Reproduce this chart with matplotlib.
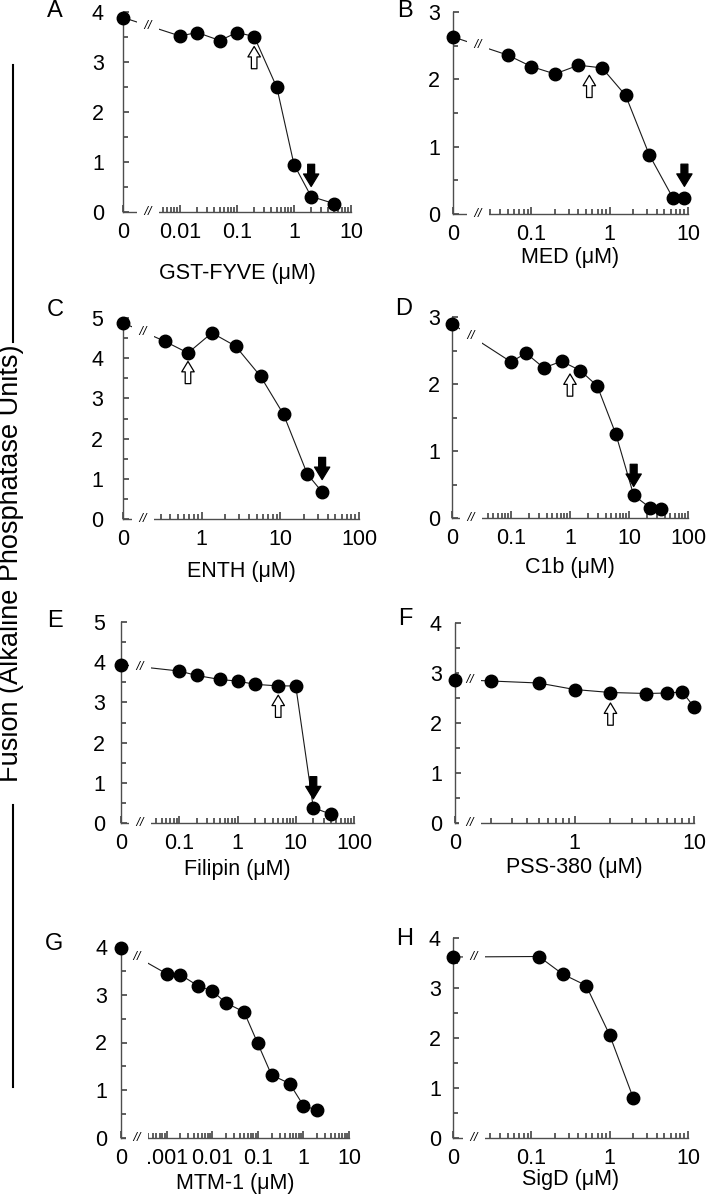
import numpy as np
import matplotlib
matplotlib.use('Agg')
import matplotlib.pyplot as plt
from matplotlib.lines import Line2D
from matplotlib.ticker import FixedLocator, FixedFormatter, NullFormatter

plt.rcParams['font.family'] = ['Liberation Sans', 'DejaVu Sans']

# ---- data (uM, alkaline phosphatase units) ----
# A  GST-FYVE
a_conc = [0.01, 0.02, 0.05, 0.1, 0.2, 0.5, 1, 2, 5]
a_fus = [3.52, 3.59, 3.43, 3.59, 3.51, 2.49, 0.95, 0.31, 0.17]
a_zero = 3.89
a_up = [0.2, 3.31]      # x, arrow tip
a_down = [2, 0.51]
a_ticks = ['0', '0.01', '0.1', '1', '10']

# B  MED
b_conc = [0.05, 0.1, 0.2, 0.4, 0.8, 1.6, 3.2, 6.4, 9]
b_fus = [2.36, 2.19, 2.08, 2.21, 2.17, 1.76, 0.88, 0.24, 0.24]
b_zero = 2.63
b_up = [0.55, 2.06]
b_down = [9, 0.41]
b_ticks = ['0', '0.1', '1', '10']

# C  ENTH
c_conc = [0.34, 0.67, 1.35, 2.7, 5.6, 11, 22, 34]
c_fus = [4.42, 4.13, 4.63, 4.30, 3.55, 2.60, 1.12, 0.67]
c_zero = 4.88
c_up = [0.67, 3.92]
c_down = [34, 0.98]
c_ticks = ['0', '1', '10', '100']

# D  C1b
d_conc = [0.1, 0.18, 0.36, 0.72, 1.5, 2.9, 6, 12, 23, 35]
d_fus = [2.33, 2.46, 2.24, 2.34, 2.20, 1.97, 1.25, 0.34, 0.15, 0.14]
d_zero = 2.90
d_up = [1.0, 2.15]
d_down = [12, 0.47]
d_ticks = ['0', '0.1', '1', '10', '100']

# E  Filipin
e_conc = [0.1, 0.2, 0.5, 1, 2, 5, 10, 20, 40]
e_fus = [3.78, 3.67, 3.57, 3.53, 3.45, 3.41, 3.41, 0.38, 0.22]
e_zero = 3.94
e_up = [5, 3.18]
e_down = [20, 0.60]
e_ticks = ['0', '0.1', '1', '10', '100']

# F  PSS-380
f_conc = [0.2, 0.5, 1, 2, 4, 6, 8, 10]
f_fus = [2.84, 2.80, 2.67, 2.61, 2.59, 2.60, 2.62, 2.32]
f_zero = 2.87
f_up = [2, 2.40]
f_down = None
f_ticks = ['0', '1', '10']

# G  MTM-1
g_conc = [0.001, 0.002, 0.005, 0.01, 0.02, 0.05, 0.1, 0.2, 0.5, 1, 2]
g_fus = [3.44, 3.42, 3.18, 3.08, 2.83, 2.64, 1.98, 1.32, 1.14, 0.68, 0.58]
g_zero = 3.98
g_ticks = ['0', '.001', '0.01', '0.1', '1', '10']

# H  SigD
h_conc = [0.125, 0.25, 0.5, 1, 2]
h_fus = [3.63, 3.28, 3.05, 2.06, 0.80]
h_zero = 3.62
h_ticks = ['0', '0.1', '1', '10']

W, H = 706, 1200
fig = plt.figure(figsize=(W / 100, H / 100), dpi=100)

# layout in pixels: box=(left, right, top, bottom); dec = log10 of zero slot and right end
panels = [
    dict(key='A', lab='GST-FYVE (μM)', x=a_conc, y=a_fus, y0=a_zero, up=a_up, down=a_down,
         ticks=a_ticks, box=(123, 351, 12, 212), dec=(-3, 1), ymax=4, mfrom=0.005,
         brk=25, ypad=19, labpos=(55, 11), xlab=273),
    dict(key='B', lab='MED (μM)', x=b_conc, y=b_fus, y0=b_zero, up=b_up, down=b_down,
         ticks=b_ticks, box=(453, 688, 12, 214), dec=(-2, 1), ymax=3, mfrom=0.03,
         brk=25, ypad=13, labpos=(405, 11), xlab=257),
    dict(key='C', lab='ENTH (μM)', x=c_conc, y=c_fus, y0=c_zero, up=c_up, down=c_down,
         ticks=c_ticks, box=(123, 359, 318, 519), dec=(-1, 2), ymax=5, mfrom=0.3,
         brk=20, ypad=20, labpos=(55, 310), xlab=572),
    dict(key='D', lab='C1b (μM)', x=d_conc, y=d_fus, y0=d_zero, up=d_up, down=d_down,
         ticks=d_ticks, box=(452, 688, 317, 518), dec=(-2, 2), ymax=3, mfrom=0.04,
         brk=19, ypad=12, labpos=(404, 309), xlab=567),
    dict(key='E', lab='Filipin (μM)', x=e_conc, y=e_fus, y0=e_zero, up=e_up, down=e_down,
         ticks=e_ticks, box=(121, 354, 622, 823), dec=(-2, 2), ymax=5, mfrom=0.04,
         brk=19, ypad=16, labpos=(55, 621), xlab=870),
    dict(key='F', lab='PSS-380 (μM)', x=f_conc, y=f_fus, y0=f_zero, up=f_up, down=f_down,
         ticks=f_ticks, box=(455, 694, 623, 823), dec=(-1, 1), ymax=4, mfrom=0.2,
         brk=15, ypad=13, labpos=(405, 619), xlab=867),
    dict(key='G', lab='MTM-1 (μM)', x=g_conc, y=g_fus, y0=g_zero, up=None, down=None,
         ticks=g_ticks, box=(121, 349, 947, 1138), dec=(-4, 1), ymax=4, mfrom=0.0004,
         brk=16, ypad=14, labpos=(54, 944), xlab=1183),
    dict(key='H', lab='SigD (μM)', x=h_conc, y=h_fus, y0=h_zero, up=None, down=None,
         ticks=h_ticks, box=(453, 688, 938, 1138), dec=(-2, 1), ymax=4, mfrom=0.03,
         brk=21, ypad=12, labpos=(405, 939), xlab=1180),
]

axis_col = '0.3'
tick_col = '0.2'
brk_box = dict(boxstyle='square,pad=0.35', fc='white', ec='none')
open_style = 'simple,head_length=7.5,head_width=9,tail_width=4'
solid_style = 'simple,head_length=9,head_width=11,tail_width=5'

for p in panels:
    L, R, T, B = p['box']
    ax = fig.add_axes([L / W, 1 - B / H, (R - L) / W, (B - T) / H])
    lo, hi = p['dec']
    x0 = 10.0 ** lo  # slot used for the zero-dose point
    ax.set_xscale('log')
    ax.set_xlim(x0, 10.0 ** hi)
    ax.set_ylim(0, p['ymax'])

    xs = [x0] + list(p['x'])
    ys = [p['y0']] + list(p['y'])
    ax.plot(xs, ys, color='0.1', lw=0.8, zorder=2)
    ax.plot(xs, ys, 'o', color='black', ms=9, zorder=4, clip_on=False)

    # break marks on the curve and on the x axis
    frac = p['brk'] / (R - L)
    lb = lo + frac * (hi - lo)
    yb = p['y0'] + (p['y'][0] - p['y0']) * (lb - lo) / (np.log10(p['x'][0]) - lo)
    ax.text(10 ** lb, yb, ' // ', fontsize=9, style='italic', ha='center', va='center',
            bbox=brk_box, zorder=3)
    ax.text(frac, 0, ' // ', fontsize=9, style='italic', ha='center', va='center',
            transform=ax.transAxes, bbox=brk_box, zorder=3, clip_on=False)

    # arrows (open = up, filled = down), fixed length in points
    if p['up'] is not None:
        ax.annotate('', xy=(p['up'][0], p['up'][1]), xytext=(0, -16),
                    textcoords='offset points',
                    arrowprops=dict(arrowstyle=open_style, mutation_scale=1, fc='white',
                                    ec='black', lw=0.9, shrinkA=0, shrinkB=0), zorder=5)
    if p['down'] is not None:
        ax.annotate('', xy=(p['down'][0], p['down'][1]), xytext=(0, 16),
                    textcoords='offset points',
                    arrowprops=dict(arrowstyle=solid_style, mutation_scale=1, fc='black',
                                    ec='black', lw=0.9, shrinkA=0, shrinkB=0), zorder=5)

    # ticks
    majors = [x0] + [10.0 ** k for k in range(lo + 1, hi + 1)]
    ax.xaxis.set_major_locator(FixedLocator(majors))
    ax.xaxis.set_major_formatter(FixedFormatter(p['ticks']))
    minors = [m * 10.0 ** k for k in range(lo, hi) for m in range(2, 10)
              if m * 10.0 ** k >= p['mfrom'] * 0.999]
    ax.xaxis.set_minor_locator(FixedLocator(minors))
    ax.xaxis.set_minor_formatter(NullFormatter())
    ax.set_yticks(range(p['ymax'] + 1))
    ax.set_yticks(np.arange(0.5, p['ymax'], 1.0), minor=True)

    ax.tick_params(axis='x', which='major', direction='in', length=5, width=1.1,
                   color=tick_col, labelsize=15.5, pad=7)
    ax.tick_params(axis='x', which='minor', direction='in', length=3.5, width=1.1,
                   color=tick_col)
    ax.tick_params(axis='y', which='major', direction='in', length=4.5, width=1.1,
                   color=tick_col, labelsize=15.5, pad=p['ypad'] * 0.72)
    ax.tick_params(axis='y', which='minor', direction='in', length=3.5, width=1.1,
                   color=tick_col)

    for s in ('top', 'right'):
        ax.spines[s].set_visible(False)
    for s in ('left', 'bottom'):
        ax.spines[s].set_color(axis_col)
        ax.spines[s].set_linewidth(1.0)
    ax.patch.set_alpha(0)

    ax.set_xlabel(p['lab'], fontsize=15.5)
    ax.xaxis.set_label_coords(0.5, -(p['xlab'] - B) / (B - T))
    ax.xaxis.label.set_verticalalignment('center')

    lx, ly = p['labpos']
    fig.text(lx / W, 1 - ly / H, p['key'], fontsize=17, ha='center', va='center')

# shared y label with the long bars above and below it
fig.text(11 / W, 1 - 563 / H, 'Fusion (Alkaline Phosphatase Units)', rotation=90,
         fontsize=19.5, ha='center', va='center')
for y1, y2 in [(65, 342), (805, 1087)]:
    fig.add_artist(Line2D([13 / W, 13 / W], [1 - y1 / H, 1 - y2 / H],
                          color='black', lw=1.5, transform=fig.transFigure))

fig.savefig('out.png', dpi=100)
